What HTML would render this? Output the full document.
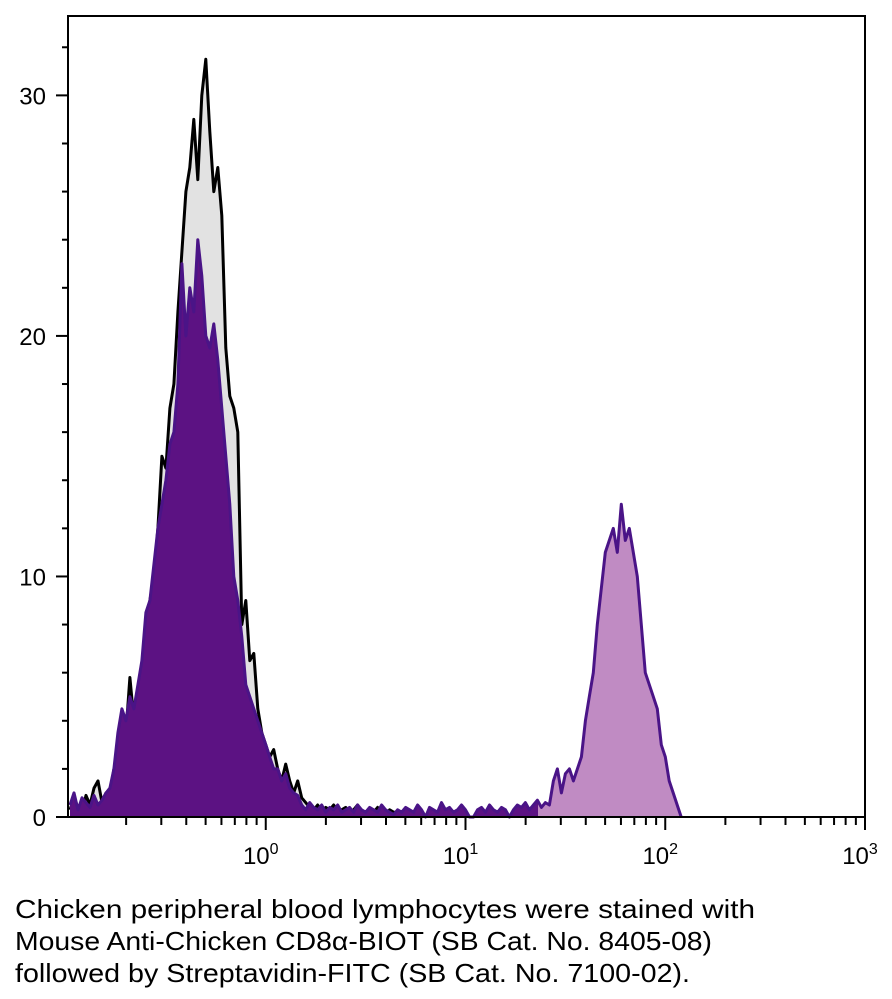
<!DOCTYPE html>
<html><head><meta charset="utf-8"><style>
html,body{margin:0;padding:0;background:#fff;}
svg{display:block;font-family:"Liberation Sans",Arial,sans-serif;}
</style></head><body>
<svg id="chart" width="892" height="999" viewBox="0 0 892 999" xmlns="http://www.w3.org/2000/svg">
<defs>
<linearGradient id="sampleFill" gradientUnits="userSpaceOnUse" x1="68" y1="0" x2="865" y2="0">
<stop offset="0.59" stop-color="#5c1283"/><stop offset="0.59" stop-color="#c08bc3"/>
</linearGradient>
</defs>
<g id="plot"></g>
<rect x="68" y="16" width="797" height="801" fill="none" stroke="#000" stroke-width="2"/>
<g id="axes"></g>
<g font-size="26" fill="#000">
<text x="15" y="918" textLength="740" lengthAdjust="spacingAndGlyphs">Chicken peripheral blood lymphocytes were stained with</text>
<text x="15" y="950" textLength="697" lengthAdjust="spacingAndGlyphs">Mouse Anti-Chicken CD8α-BIOT (SB Cat. No. 8405-08)</text>
<text x="15" y="982" textLength="675" lengthAdjust="spacingAndGlyphs">followed by Streptavidin-FITC (SB Cat. No. 7100-02).</text>
</g>
</svg>
<script>
// data: bins start at log10 = -0.99, width 0.02 decades
const binStartLog = -0.99;
const binWidthLog = 0.02;
const controlCounts = [0.3,0.8,0.4,0.2,0.9,0.5,1.2,1.5,0.6,1.0,0.8,2.0,1.5,2.5,3.5,5.8,4.0,4.5,6.0,7.0,9.0,10.0,12.0,15.0,14.5,17.0,18.0,21.0,23.5,26.0,27.0,29.0,26.5,30.0,31.5,28.5,26.0,27.0,25.0,19.5,17.5,17.0,16.0,8.0,9.0,6.5,6.8,4.5,3.5,3.0,2.5,2.8,2.0,1.5,2.2,1.5,1.0,1.5,0.8,0.6,0.4,0.3,0.5,0.2,0.4,0.3,0.5,0.2,0.3,0.4,0.2,0.3,0.5,0.2,0.1,0.3,0.2,0.4,0.2,0.1,0.3,0.2,0.2,0.1,0.3,0.1,0.2,0.1,0.2,0];
const sampleCounts = [0.5,1.0,0.3,0.8,0.6,0.4,0.9,0.5,0.7,1.0,1.2,2.0,3.5,4.5,4.0,5.0,4.5,5.5,6.5,8.5,9.0,10.5,12.0,13.0,14.0,15.5,16.0,18.0,23.0,20.0,22.0,21.0,24.0,22.5,20.0,19.5,20.5,19.0,17.0,15.0,13.0,10.0,9.0,7.5,5.5,5.0,4.5,4.0,3.5,3.0,2.5,2.0,2.0,1.5,1.8,1.2,1.0,0.9,
0.5,0.3,0.6,0.4,0.3,0.5,0.2,0.4,0.3,0.5,0.2,0.3,0.4,0.2,0.5,0.3,0.2,0.4,0.3,0.2,0.5,0.3,0.2,0.1,0.3,0.2,0.4,0.3,0.2,0.5,0.3,0,0.4,0.3,0.2,0.6,0.3,0.4,0.2,0.3,0.5,0.3,0,0,0.3,0.4,0.2,0.5,0.3,0.2,0.4,0.3,0,0.3,0.5,0.4,0.6,0.3,0.5,0.7,0.4,0.6,0.5,
1.5,2.0,1.0,1.8,2.0,1.5,2.0,2.5,4.0,5.0,6.0,8.0,9.5,11.0,11.5,12.0,11.0,13.0,11.5,12.0,11.0,10.0,8.0,6.0,5.5,5.0,4.5,3.0,2.5,1.5,1.0,0.5,0];
const xTickDecades = [0,1,2,3];
const yTickValues = [0,10,20,30];

const X0=68,X1=865,Y0=817,Y1=16;
const logMin=-0.99, logMax=3.0, yMax=33.3;
function xScale(lg){return X0+(lg-logMin)/(logMax-logMin)*(X1-X0);}
function yScale(v){return Y0-v/yMax*(Y0-Y1);}
const NS="http://www.w3.org/2000/svg";
const plot=document.getElementById('plot');
const axes=document.getElementById('axes');
function pts(arr){
  const p=[];
  arr.forEach((v,i)=>{p.push([xScale(binStartLog+(i+0.5)*binWidthLog),yScale(v)]);});
  return p;
}
function addPath(pList,fill,stroke,name,closed){
  const el=document.createElementNS(NS,'path');
  let d='';
  if(closed){d='M'+pList[0][0].toFixed(1)+','+Y0+' ';}
  pList.forEach((p,i)=>{d+=(i===0&&!closed?'M':'L')+p[0].toFixed(1)+','+p[1].toFixed(1)+' ';});
  if(closed){d+='L'+pList[pList.length-1][0].toFixed(1)+','+Y0+' Z';}
  el.setAttribute('d',d);
  el.setAttribute('fill',fill);
  el.setAttribute('stroke',stroke);
  el.setAttribute('stroke-width','3');
  el.setAttribute('stroke-linejoin','round');
  
  
  plot.appendChild(el);
}
const cp=pts(controlCounts), sp=pts(sampleCounts);
addPath(cp,'#e2e2e2','none','control-fill',true);
addPath(cp,'none','#000','control-line',false);
addPath(sp,'url(#sampleFill)','none','sample-fill',true);
addPath(sp,'none','#4a1487','sample-line',false);

function line(x1,y1,x2,y2,name){
  const l=document.createElementNS(NS,'line');
  l.setAttribute('x1',x1);l.setAttribute('y1',y1);l.setAttribute('x2',x2);l.setAttribute('y2',y2);
  l.setAttribute('stroke','#000');l.setAttribute('stroke-width','2');
  
  
  axes.appendChild(l);
}
for(let v=0;v<=32;v+=2){
  const y=yScale(v);
  const major=v%10===0;
  line(major?56:62,y,X0,y,major?'y-major-tick':'y-minor-tick');
}
yTickValues.forEach(v=>{
  const t=document.createElementNS(NS,'text');
  t.setAttribute('x',46);t.setAttribute('y',yScale(v)+9);
  t.setAttribute('text-anchor','end');t.setAttribute('font-size','24');
  t.textContent=String(v);
  
  
  axes.appendChild(t);
});
for(let d=-1;d<3;d++){
  for(let m=1;m<10;m++){
    const lg=d+Math.log10(m);
    if(lg<logMin)continue;
    const x=xScale(lg);
    line(x,Y0,x,Y0+(m===1?13:8),m===1?'x-major-tick':'x-minor-tick');
  }
}
line(xScale(3),Y0,xScale(3),Y0+13,'x-major-tick');
xTickDecades.forEach(d=>{
  const t=document.createElementNS(NS,'text');
  t.setAttribute('x',xScale(d)-5);t.setAttribute('y',864);
  t.setAttribute('text-anchor','middle');t.setAttribute('font-size','24');
  
  
  t.textContent='10';
  const s=document.createElementNS(NS,'tspan');
  s.setAttribute('dy','-10');s.setAttribute('font-size','16');
  s.textContent=String(d);
  t.appendChild(s);
  axes.appendChild(t);
});
</script>
</body></html>
